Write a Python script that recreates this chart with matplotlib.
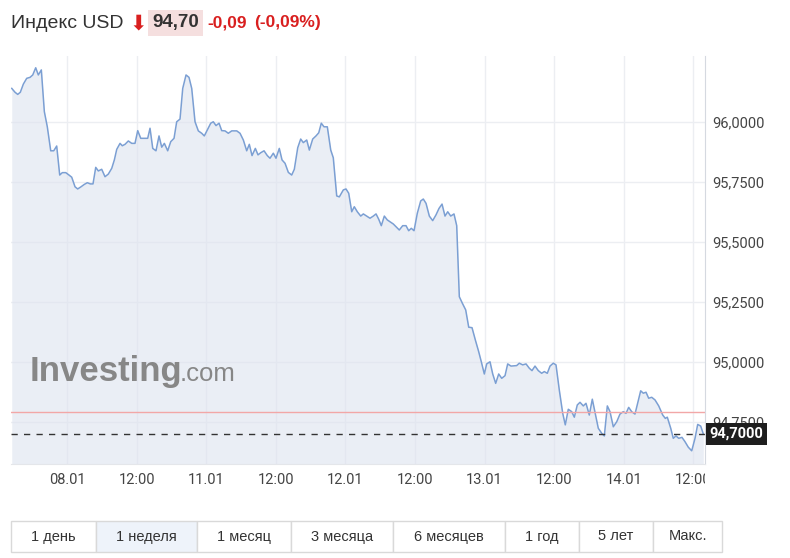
import matplotlib.pyplot as plt
from matplotlib.patches import Rectangle

W, H = 790, 558

# trading-time hours counted from 08.01 00:00 (weekend skipped)
hours = [
    -9.53, -8.97, -8.5, -8.05, -7.53, -6.95, -6.38, -5.91, -5.40, -4.95,
    -4.43, -3.91, -3.40, -2.81, -2.29, -1.78, -1.26, -0.81, -0.22, 0.34,
    0.81, 1.38, 1.84, 2.41, 2.98, 3.50, 4.02, 4.48, 4.95, 5.40,
    5.98, 6.55, 7.12, 7.71, 8.16, 8.57, 9.14, 9.53, 10.0, 10.57,
    11.16, 11.72, 12.19, 12.71, 13.33, 13.91, 14.31, 14.78, 15.34, 15.86,
    16.33, 16.78, 17.36, 17.88, 18.45, 18.91, 19.48, 19.95, 20.52, 21.03,
    21.50, 22.07, 22.64, 23.22, 23.67, 24.19, 24.78, 25.22, 25.69, 26.21,
    26.67, 27.24, 27.81, 28.40, 29.26, 29.83, 30.40, 30.98, 31.43, 31.90,
    32.47, 32.93, 33.40, 33.97, 34.53, 35.0, 35.57, 36.03, 36.60, 37.07,
    37.59, 38.16, 38.74, 39.19, 39.78, 40.29, 40.74, 41.33, 41.78, 42.36,
    42.93, 43.40, 43.84, 44.31, 44.88, 45.47, 45.91, 46.50, 46.95, 47.64,
    48.10, 48.57, 49.09, 49.53, 50.05, 50.64, 51.09, 51.67, 52.24, 52.81,
    53.28, 53.74, 54.19, 54.71, 55.22, 56.26, 57.29, 57.88, 58.45, 58.91,
    59.36, 59.83, 60.40, 60.98, 61.43, 61.90, 62.47, 63.05, 63.62, 64.14,
    64.66, 65.17, 65.64, 66.16, 66.72, 67.19, 67.64, 68.16, 68.74, 69.26,
    69.83, 70.40, 70.98, 71.43, 71.95, 72.36, 72.93, 73.40, 73.91, 74.43,
    74.95, 75.52, 75.98, 76.55, 77.53, 77.98, 78.57, 79.14, 79.71, 80.17,
    80.69, 81.26, 81.84, 82.29, 82.81, 83.28, 83.84, 84.31, 84.88, 85.47,
    85.91, 86.43, 87.02, 87.47, 87.98, 88.45, 89.02, 89.48, 90.05, 90.57,
    91.09, 91.60, 92.19, 92.64, 93.16, 93.62, 94.19, 94.78, 95.34, 95.91,
    96.38, 96.84, 97.36, 97.93, 98.45, 98.91, 99.36, 99.83, 100.29, 100.81,
    101.38, 102.02, 102.71, 103.16, 103.50, 104.09, 104.53, 105.0, 105.47, 106.03,
    106.55, 107.12, 107.71, 108.28, 108.74, 109.26, 109.71,
]
price = [
    96.140, 96.124, 96.115, 96.124, 96.158, 96.182, 96.186, 96.196, 96.226, 96.196,
    96.217, 96.043, 95.980, 95.880, 95.880, 95.900, 95.779, 95.789, 95.789, 95.779,
    95.770, 95.730, 95.721, 95.730, 95.740, 95.747, 95.742, 95.742, 95.811, 95.796,
    95.803, 95.772, 95.783, 95.807, 95.842, 95.886, 95.911, 95.901, 95.907, 95.921,
    95.911, 95.911, 95.964, 95.932, 95.932, 95.932, 95.974, 95.890, 95.880, 95.942,
    95.895, 95.911, 95.880, 95.918, 95.932, 96.001, 96.012, 96.140, 96.196, 96.186,
    96.140, 96.001, 95.963, 95.953, 95.942, 95.967, 95.995, 96.001, 95.985, 95.995,
    95.964, 95.963, 95.953, 95.963, 95.963, 95.953, 95.925, 95.880, 95.907, 95.860,
    95.890, 95.863, 95.872, 95.880, 95.860, 95.849, 95.870, 95.849, 95.890, 95.842,
    95.828, 95.790, 95.779, 95.803, 95.893, 95.929, 95.914, 95.925, 95.883, 95.929,
    95.942, 95.955, 95.995, 95.980, 95.980, 95.883, 95.851, 95.692, 95.688, 95.717,
    95.721, 95.703, 95.626, 95.647, 95.626, 95.608, 95.617, 95.608, 95.599, 95.608,
    95.617, 95.595, 95.568, 95.608, 95.592, 95.575, 95.550, 95.568, 95.568, 95.547,
    95.557, 95.547, 95.620, 95.671, 95.679, 95.661, 95.608, 95.589, 95.613, 95.640,
    95.658, 95.608, 95.626, 95.608, 95.617, 95.568, 95.272, 95.245, 95.217, 95.145,
    95.143, 95.092, 95.043, 95.001, 94.950, 94.992, 95.001, 94.950, 94.911, 94.950,
    94.932, 94.943, 94.992, 94.983, 94.985, 94.995, 94.988, 94.992, 94.974, 94.964,
    94.983, 94.964, 94.953, 94.960, 94.953, 94.983, 94.995, 94.988, 94.883, 94.786,
    94.738, 94.803, 94.793, 94.770, 94.821, 94.832, 94.817, 94.828, 94.779, 94.845,
    94.783, 94.724, 94.703, 94.692, 94.817, 94.793, 94.730, 94.751, 94.783, 94.793,
    94.786, 94.811, 94.793, 94.783, 94.835, 94.880, 94.870, 94.874, 94.849, 94.853,
    94.842, 94.817, 94.779, 94.765, 94.770, 94.724, 94.682, 94.692, 94.682, 94.686,
    94.668, 94.645, 94.630, 94.682, 94.740, 94.733, 94.700,
]

tick_hours = [0, 12, 24, 36, 48, 60, 72, 84, 96, 108]
tick_labels = ['08.01', '12:00', '11.01', '12:00', '12.01', '12:00',
               '13.01', '12:00', '14.01', '12:00']
price_ticks = [94.75, 95.0, 95.25, 95.5, 95.75, 96.0]

last_price = 94.70
prev_close = 94.79
change = -0.09
change_pct = -0.09

periods = ['1 день', '1 неделя', '1 месяц', '3 месяца', '6 месяцев', '1 год', '5 лет', 'Макс.']
active_period = '1 неделя'


def ru(v, digits):
    return f"{v:.{digits}f}".replace('.', ',')


plt.rcParams['font.family'] = ['Roboto', 'DejaVu Sans']

fig = plt.figure(figsize=(W / 100, H / 100), dpi=100)
ax = fig.add_axes([11 / W, 1 - 464 / H, 694 / W, 408 / H])

y_bottom, y_top = 94.575, 96.275
ax.set_xlim(-9.66, 110.0)
ax.set_ylim(y_bottom, y_top)

# area under the price line
ax.fill_between(hours, price, y_bottom, color='#dde3ef', alpha=0.6, lw=0, zorder=1)
ax.plot(hours, price, color='#7b9fd3', lw=1.1, zorder=2)

# previous close and last price lines
ax.axhline(prev_close, color='#f2a7a7', lw=1, zorder=2)
ax.axhline(last_price, color='#333333', lw=1, dashes=(4.5, 4.5), zorder=2)

ax.set_xticks(tick_hours)
ax.set_xticklabels(tick_labels)
ax.set_yticks(price_ticks)
ax.set_yticklabels([ru(v, 4) for v in price_ticks])
ax.yaxis.tick_right()
ax.tick_params(axis='both', length=0, labelsize=10.5, labelcolor='#444444')
ax.tick_params(axis='x', pad=6.5)
ax.tick_params(axis='y', pad=5.5)

ax.grid(True, color='#eceef2', lw=1)
ax.set_axisbelow(True)
for side in ['top', 'left']:
    ax.spines[side].set_visible(False)
ax.spines['right'].set_color('#d5d9e0')
ax.spines['bottom'].set_color('#e4e6ea')

# cut the last tick label at the right edge of the plot
clip_rect = Rectangle((0, 0), 705 / W, 1, transform=fig.transFigure)
for lbl in ax.get_xticklabels():
    lbl.set_clip_path(clip_rect)

# last price tag on the axis (it covers the 94,7500 label, as in the original)
ax.annotate(ru(last_price, 4), xy=(1, last_price), xycoords=('axes fraction', 'data'),
            xytext=(3, 0), textcoords='offset points', ha='left', va='center',
            fontsize=10.5, fontweight='bold', color='white', zorder=5,
            bbox=dict(boxstyle='square,pad=0.25', facecolor='#1e1e1e', edgecolor='none'))

# watermark
fig.text(30 / W, 1 - 381 / H, 'Investing', fontsize=25, fontweight='bold',
         family='Liberation Sans', color='#878787', va='baseline')
fig.text(180 / W, 1 - 381 / H, '.com', fontsize=18.5, family='Liberation Sans',
         color='#878787', va='baseline')

# header
hy = 1 - 23 / H
fig.text(11 / W, hy, 'Индекс USD', fontsize=14, family='Liberation Sans',
         color='#333333', va='center')
fig.text(129 / W, hy, '⬇', fontsize=15, family='DejaVu Sans', color='#d91f1f', va='center')
fig.text(152 / W, hy, ru(last_price, 2), fontsize=13.5, fontweight='bold',
         family='Liberation Sans', color='#333333', va='center',
         bbox=dict(boxstyle='square,pad=0.22', facecolor='#f5dfdf', edgecolor='none'))
fig.text(207 / W, hy, ru(change, 2), fontsize=12.5, fontweight='bold',
         family='Liberation Sans', color='#d91f1f', va='center')
fig.text(254 / W, hy, f"({ru(change_pct, 2)}%)", fontsize=12.5, fontweight='bold',
         family='Liberation Sans', color='#d91f1f', va='center')

# period buttons
edges = [11, 96, 197, 291, 393, 505, 579, 653, 722]
top_px, bot_px = 521, 552
for i, name in enumerate(periods):
    x0, x1 = edges[i], edges[i + 1]
    face = '#eef3fa' if name == active_period else 'white'
    fig.add_artist(Rectangle((x0 / W, 1 - bot_px / H), (x1 - x0) / W, (bot_px - top_px) / H,
                             transform=fig.transFigure, facecolor=face,
                             edgecolor='#d9d9d9', lw=1))
    fig.text((x0 + x1) / 2 / W, 1 - (top_px + bot_px) / 2 / H, name, fontsize=10.5,
             family='Liberation Sans', color='#333333', ha='center', va='center')

fig.savefig('out.png', dpi=100)
